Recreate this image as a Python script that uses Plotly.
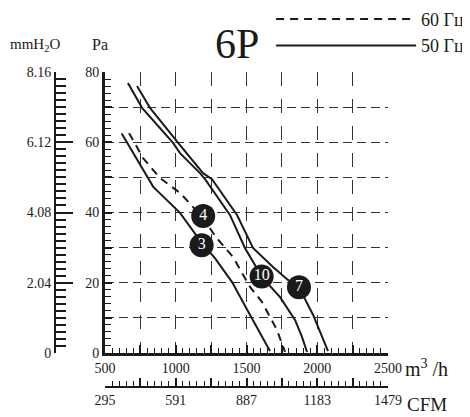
import plotly.graph_objects as go

# air flow (m3/h) and static pressure (Pa)
curve_10_flow = [662, 762, 981, 1030, 1171, 1207, 1383, 1489, 1610, 1737, 1843, 1892, 1928]
curve_10_pa = [76.9, 69.8, 59.8, 56.9, 51.2, 49.5, 39.3, 29.9, 21.6, 15.9, 9.4, 4.6, 0.3]

curve_7_flow = [726, 818, 1030, 1193, 1256, 1433, 1546, 1687, 1793, 1871, 1970, 2076]
curve_7_pa = [76.0, 69.8, 59.2, 51.2, 49.5, 39.3, 29.9, 24.5, 20.8, 18.7, 10.9, 0.5]

curve_3_flow = [618, 771, 841, 1030, 1101, 1185, 1277, 1398, 1525, 1666]
curve_3_pa = [62.5, 52.1, 47.3, 39.9, 35.9, 31.3, 27.0, 20.2, 10.8, 0.6]

curve_4_flow = [670, 769, 889, 1030, 1193, 1284, 1405, 1525, 1610, 1716, 1772]
curve_4_pa = [62.6, 55.5, 49.8, 45.6, 38.4, 33.0, 27.3, 18.8, 14.5, 6.5, 0.3]

badge_text = ['4', '3', '10', '7']
badge_flow = [1194, 1183, 1607, 1871]
badge_pa = [39.0, 30.7, 21.8, 18.7]

flow_ticks = [500, 750, 1000, 1250, 1500, 1750, 2000, 2250, 2500]
flow_labels = ['500', '', '1000', '', '1500', '', '2000', '', '2500']
pa_ticks = [0, 10, 20, 30, 40, 50, 60, 70, 80]
pa_labels = ['0', '', '20', '', '40', '', '60', '', '80']
cfm_ticks = [295, 443, 591, 739, 887, 1035, 1183, 1331, 1479]
cfm_labels = ['295', '', '591', '', '887', '', '1183', '', '1479']
mm_ticks = [0, 2.04, 4.08, 6.12, 8.16]
mm_labels = ['0', '2.04', '4.08', '6.12', '8.16']

FONT = 'Liberation Serif'
INK = '#1a1a1a'

fig = go.Figure()

fig.add_trace(go.Scatter(x=curve_4_flow, y=curve_4_pa, mode='lines', name='60 Гц',
                         legendrank=1, legendgroup='a',
                         line=dict(color=INK, width=2, dash='8px,6px')))
fig.add_trace(go.Scatter(x=curve_3_flow, y=curve_3_pa, mode='lines', name='50 Гц',
                         legendrank=2, legendgroup='b',
                         line=dict(color=INK, width=2)))
fig.add_trace(go.Scatter(x=curve_10_flow, y=curve_10_pa, mode='lines', showlegend=False,
                         line=dict(color=INK, width=2)))
fig.add_trace(go.Scatter(x=curve_7_flow, y=curve_7_pa, mode='lines', showlegend=False,
                         line=dict(color=INK, width=2)))

# numbered badges on the curves
fig.add_trace(go.Scatter(x=badge_flow, y=badge_pa, mode='markers+text', text=badge_text,
                         textposition='middle center', showlegend=False,
                         marker=dict(size=24, color=INK),
                         textfont=dict(color='white', size=16, family=FONT)))

# dummy trace so the CFM / mmH2O axes get drawn
fig.add_trace(go.Scatter(x=[], y=[], xaxis='x2', yaxis='y2', showlegend=False))

x_dom = [(105 - 55) / 333, 1]
y_dom = [(387 - 353) / 315, 1]

# page body adds an 8px offset, margins are shifted to compensate
fig.update_layout(
    width=470, height=417,
    margin=dict(l=47, r=90, t=64, b=38, autoexpand=False),
    paper_bgcolor='white', plot_bgcolor='white',
    font=dict(family=FONT, size=14, color=INK),
    xaxis=dict(domain=x_dom, range=[500, 2500], anchor='y',
               tickmode='array', tickvals=flow_ticks, ticktext=flow_labels,
               ticks='inside', ticklen=8, tickwidth=1.5, tickcolor=INK,
               minor=dict(dtick=50, tick0=500, ticks='inside', ticklen=5,
                          tickwidth=1.2, tickcolor=INK),
               showline=True, linewidth=3, linecolor=INK,
               showgrid=True, gridcolor='#333', gridwidth=1.3, griddash='14px,13px',
               zeroline=False),
    yaxis=dict(domain=y_dom, range=[0, 80], anchor='x',
               tickmode='array', tickvals=pa_ticks, ticktext=pa_labels,
               ticks='inside', ticklen=7, tickwidth=1.5, tickcolor=INK,
               minor=dict(dtick=2, tick0=0, ticks='inside', ticklen=6,
                          tickwidth=1.2, tickcolor=INK),
               showline=True, linewidth=3, linecolor=INK,
               showgrid=True, gridcolor='#333', gridwidth=1.3, griddash='9px,5px',
               zeroline=False),
    xaxis2=dict(domain=x_dom, range=[295, 1479], overlaying='x', anchor='free',
                position=0, side='bottom',
                tickmode='array', tickvals=cfm_ticks, ticktext=cfm_labels,
                ticks='inside', ticklen=8, tickwidth=1.5, tickcolor=INK,
                minor=dict(dtick=29.6, tick0=295, ticks='inside', ticklen=5,
                           tickwidth=1.2, tickcolor=INK),
                showline=True, linewidth=2, linecolor=INK,
                showgrid=False, zeroline=False),
    yaxis2=dict(domain=y_dom, range=[0, 8.16], overlaying='y', anchor='free',
                position=0, side='left',
                tickmode='array', tickvals=mm_ticks, ticktext=mm_labels,
                ticks='inside', ticklen=17, tickwidth=1.5, tickcolor=INK,
                minor=dict(dtick=0.204, tick0=0, ticks='inside', ticklen=10,
                           tickwidth=1.5, tickcolor=INK),
                showline=True, linewidth=2, linecolor=INK,
                showgrid=False, zeroline=False),
    legend=dict(x=0.649, y=1.226, xanchor='left', yanchor='top',
                itemwidth=140, tracegroupgap=0, traceorder='grouped',
                bgcolor='rgba(0,0,0,0)', font=dict(family=FONT, size=18)),
    showlegend=True,
)

fig.add_annotation(text='6P', xref='paper', yref='paper', x=0.5466, y=1.089,
                   xanchor='center', yanchor='middle',
                   showarrow=False, font=dict(family=FONT, size=42))
fig.add_annotation(text='mmH<sub>2</sub>O', xref='paper', yref='paper', x=-0.06, y=1.086,
                   xanchor='center', yanchor='middle',
                   showarrow=False, font=dict(family=FONT, size=15))
fig.add_annotation(text='Pa', xref='paper', yref='paper', x=0.135, y=1.086,
                   xanchor='center', yanchor='middle',
                   showarrow=False, font=dict(family=FONT, size=16))
fig.add_annotation(text='m<sup>3</sup> /h', xref='paper', yref='paper', x=1.045, y=0.06,
                   xanchor='left', yanchor='middle',
                   showarrow=False, font=dict(family=FONT, size=20))
fig.add_annotation(text='CFM', xref='paper', yref='paper', x=1.051, y=-0.054,
                   xanchor='left', yanchor='middle',
                   showarrow=False, font=dict(family=FONT, size=19))

fig.write_html("out.html")
